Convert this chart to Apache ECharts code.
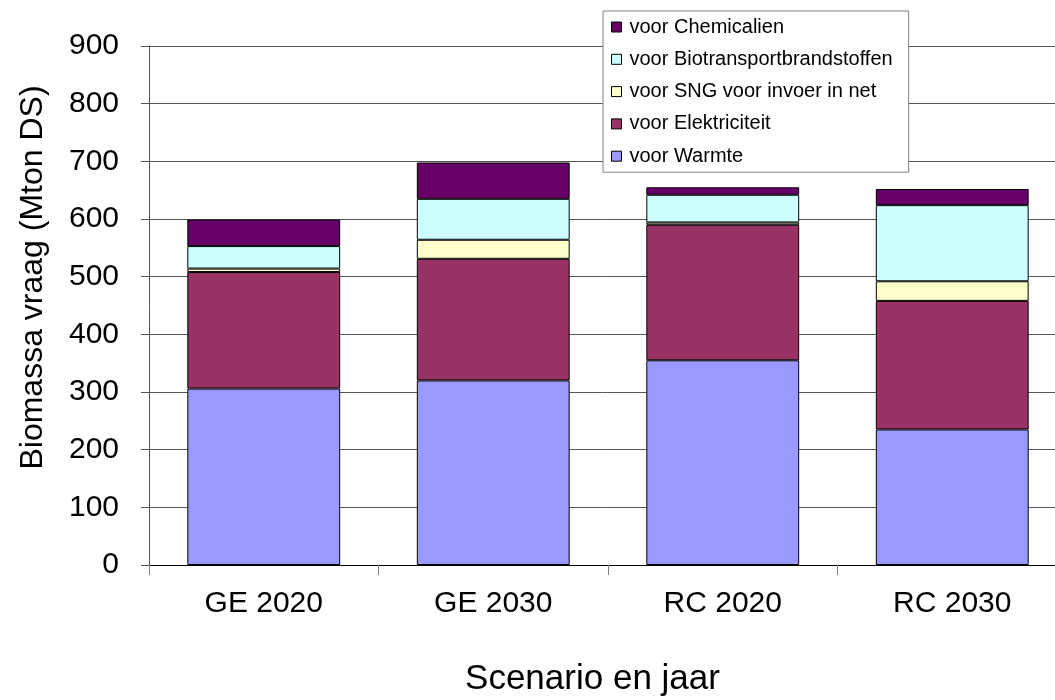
<!DOCTYPE html>
<html>
<head>
<meta charset="utf-8">
<script src="https://cdn.jsdelivr.net/npm/echarts@6/dist/echarts.min.js"></script>
<style>
html,body{margin:0;padding:0;background:#fff;overflow:hidden;}
#chart{width:1055px;height:700px;}
</style>
</head>
<body>
<div id="chart"></div>
<script>
const categories = ['GE 2020', 'GE 2030', 'RC 2020', 'RC 2030'];
const warmte = [306, 320, 355, 235];
const elektriciteit = [202, 211, 235, 223];
const sng = [6, 33, 4, 34];
const biotransport = [39, 71, 48, 132];
const chemicalien = [46, 63, 13, 28];
const yTicks = [0, 100, 200, 300, 400, 500, 600, 700, 800, 900];

const names = ['voor Warmte', 'voor Elektriciteit', 'voor SNG voor invoer in net', 'voor Biotransportbrandstoffen', 'voor Chemicalien'];
const colors = ['#9999FF', '#993366', '#FFFFCC', '#CCFFFF', '#660066'];
const values = [warmte, elektriciteit, sng, biotransport, chemicalien];

const font = 'Liberation Sans, Arial, sans-serif';
const chart = echarts.init(document.getElementById('chart'));
chart.setOption({
  animation: false,
  backgroundColor: '#ffffff',
  textStyle: { fontFamily: font, color: '#000' },
  grid: { left: 149, width: 918, top: 46, height: 519, containLabel: false, outerBoundsMode: 'none' },
  legend: {
    orient: 'vertical',
    left: 603, top: 11,
    padding: [6, 16, 6, 8],
    backgroundColor: '#fff',
    borderColor: '#808080', borderWidth: 1,
    itemWidth: 10, itemHeight: 10, itemGap: 12.3,
    icon: 'rect',
    data: names.slice().reverse(),
    itemStyle: { borderColor: '#000', borderWidth: 1 },
    textStyle: { fontFamily: font, fontSize: 20, lineHeight: 20, color: '#000', padding: [0, 0, 0, 3] }
  },
  xAxis: {
    type: 'category',
    data: categories,
    name: 'Scenario en jaar',
    nameLocation: 'middle',
    nameGap: 97,
    nameTextStyle: { fontFamily: font, fontSize: 35, color: '#000', padding: [0, 31, 0, 0] },
    axisLine: { lineStyle: { color: '#000', width: 1 } },
    axisTick: { show: true, length: 10, lineStyle: { color: '#808080' } },
    axisLabel: { fontFamily: font, fontSize: 30, color: '#000', margin: 24 },
    splitLine: { show: false }
  },
  yAxis: {
    type: 'value',
    min: yTicks[0], max: yTicks[yTicks.length - 1], interval: 100,
    name: 'Biomassa vraag (Mton DS)',
    nameLocation: 'middle',
    nameGap: 100,
    nameTextStyle: { fontFamily: font, fontSize: 32, color: '#000', padding: [0, 0, 0, 56] },
    axisLine: { show: true, lineStyle: { color: '#555', width: 1 } },
    axisTick: { show: true, inside: false, length: 8, lineStyle: { color: '#555' } },
    axisLabel: { fontFamily: font, fontSize: 30, color: '#000', margin: 30 },
    splitLine: { show: true, lineStyle: { color: '#555', width: 1 } }
  },
  series: names.map((n, i) => ({
    name: n,
    type: 'bar',
    stack: 'total',
    data: values[i],
    barCategoryGap: '33.4%',
    itemStyle: { color: colors[i], borderColor: '#000', borderWidth: 1 }
  }))
});
</script>
</body>
</html>
